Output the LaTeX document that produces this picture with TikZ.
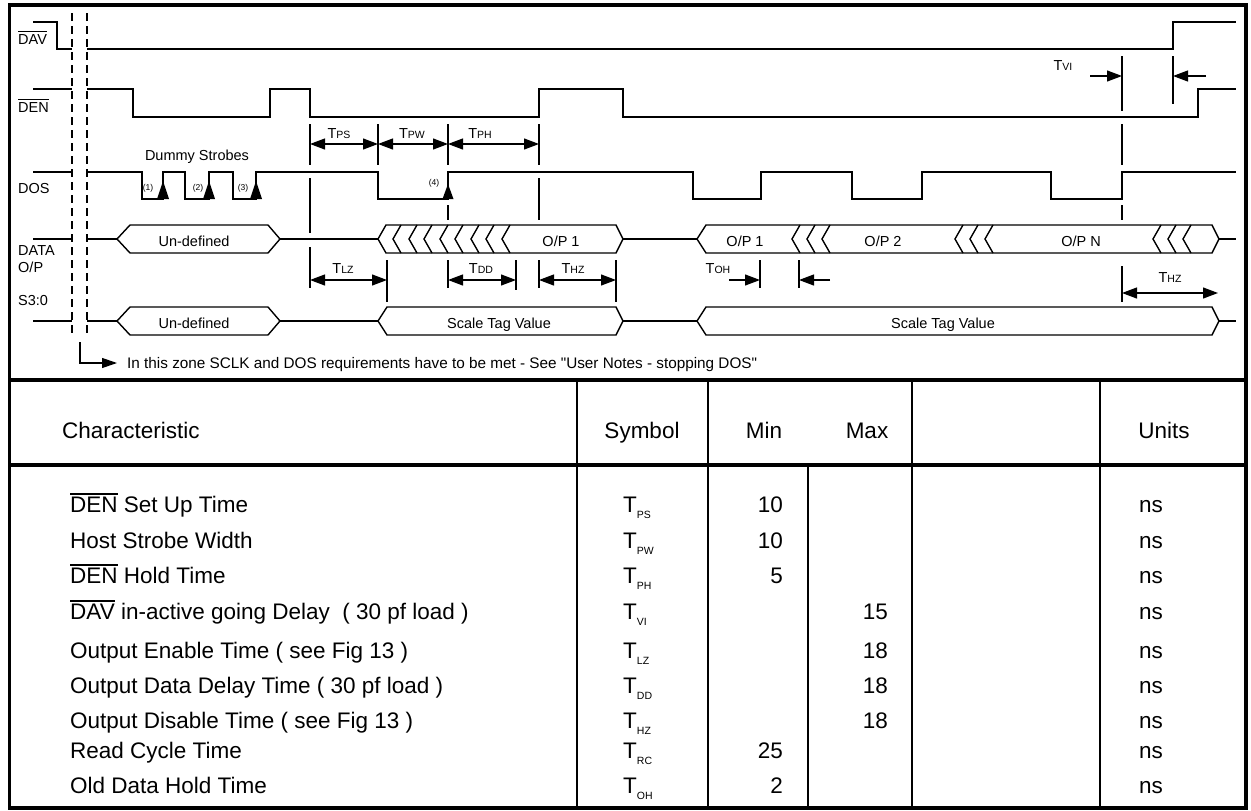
\documentclass[tikz,border=0pt]{standalone}
\usepackage{fontspec}
\setmainfont{Liberation Sans}[Ligatures=TeXOff]
\usetikzlibrary{arrows.meta}
\newcommand{\ovl}[1]{\leavevmode\vbox{\hrule height 1.4pt \kern 1.8pt \hbox{#1}}}
\newcommand{\tsub}[1]{T{\fontsize{10.5}{11}\selectfont #1}}
\newcommand{\tsym}[1]{T\raisebox{-6pt}{\fontsize{10.5}{10}\selectfont #1}}
\newcommand{\busdraw}[5]{\draw[sig] (#1,#3) -- (#1+#4,#3-14) -- (#2-#5,#3-14) -- (#2,#3) -- (#2-#5,#3+14) -- (#1+#4,#3+14) -- cycle;}
\newcommand{\chev}[2]{\draw[sig] (#1+8,#2-14) -- (#1,#2) -- (#1+8,#2+14);}
\newcommand{\upmark}[1]{\fill (#1-6,199) -- (#1+6,199) -- (#1,181) -- cycle;}
\begin{document}
\begin{tikzpicture}[x=1pt,y=-1pt,
  sig/.style={line width=1.4pt},
  mk/.style={line width=1.2pt},
  dim/.style={line width=1.2pt,{Triangle[length=15pt,width=11pt]}-{Triangle[length=15pt,width=11pt]}},
  dimr/.style={line width=1.2pt,-{Triangle[length=15pt,width=11pt]}},
  lbl/.style={font=\fontsize{14.5}{16}\selectfont,inner sep=0pt},
  blbl/.style={lbl,anchor=base},
  small/.style={font=\fontsize{8.5}{9}\selectfont,inner sep=0pt},
  tab/.style={font=\fontsize{22.5}{24}\selectfont,inner sep=0pt},
  dsh/.style={line width=1.4pt,dash pattern=on 8pt off 5pt},
  frame/.style={line width=3.5pt},
  col/.style={line width=2pt}]
\useasboundingbox (0,0) rectangle (1251,811);
\fill[white] (0,0) rectangle (1251,811);

% ---------- frame ----------
\draw[frame] (9.5,5) rectangle (1246,808);
\draw[frame] (9.5,380) -- (1246,380);
\draw[frame] (9.5,465) -- (1246,465);
\draw[col] (577,380) -- (577,808);
\draw[col] (708,380) -- (708,808);
\draw[col] (808,465) -- (808,808);
\draw[col] (912,380) -- (912,808);
\draw[col] (1100,380) -- (1100,808);

% ---------- signal names ----------
\node[lbl,anchor=base west] (nDAV) at (18,44) {\ovl{DAV}};
\node[lbl,anchor=base west] (nDEN) at (18,112) {\ovl{DEN}};
\node[lbl,anchor=base west] (nDOS) at (18,193) {DOS};
\node[lbl,anchor=base west] (nDATA) at (18,255) {DATA};
\node[lbl,anchor=base west] (nOP) at (18,272) {O/P};
\node[lbl,anchor=base west] (nS) at (18,305) {S3:0};

% ---------- dashed zone ----------
\draw[dsh] (72,13) -- (72,336);
\draw[dsh] (87,13) -- (87,336);

% ---------- DAV ----------
\draw[sig] (33,22) -- (57,22) -- (57,49) -- (72,49);
\draw[sig] (87,49) -- (1173,49) -- (1173,22) -- (1236,22);

% ---------- DEN ----------
\draw[sig] (33,89) -- (72,89);
\draw[sig] (87,89) -- (133,89) -- (133,117) -- (270,117) -- (270,89) -- (310,89) -- (310,117)
  -- (539,117) -- (539,89) -- (623,89) -- (623,117) -- (1198,117) -- (1198,89) -- (1236,89);

% ---------- DOS ----------
\draw[sig] (33,172) -- (72,172);
\draw[sig] (87,172) -- (142,172) -- (142,199) -- (163,199) -- (163,172) -- (185,172) -- (185,199)
  -- (209,199) -- (209,172) -- (233,172) -- (233,199) -- (256,199) -- (256,172) -- (378,172)
  -- (378,199) -- (448,199) -- (448,172) -- (693,172) -- (693,199) -- (761,199) -- (761,172)
  -- (852,172) -- (852,199) -- (922,199) -- (922,172) -- (1051,172) -- (1051,199) -- (1122,199)
  -- (1122,172) -- (1236,172);
\upmark{163}\upmark{209}\upmark{256}
\fill (442.5,199) -- (453.5,199) -- (448,184) -- cycle;
\node[small] (s1) at (148,188) {(1)};
\node[small] (s2) at (198,188) {(2)};
\node[small] (s3) at (243,188) {(3)};
\node[small] (s4) at (434,183) {(4)};
\node[blbl] (dummy) at (197,160) {Dummy Strobes};

% ---------- DATA O/P ----------
\draw[sig] (33,239) -- (72,239);
\draw[sig] (87,239) -- (117,239);
\busdraw{117}{280}{239}{13}{12}
\node[blbl] (d1) at (194,246.5) {Un-defined};
\draw[sig] (280,239) -- (378,239);
\busdraw{378}{623}{239}{8}{7}
\foreach \x in {393,409,424,440,455,471,486,502} {\chev{\x}{239}}
\node[blbl] (d2) at (561,246.5) {O/P 1};
\draw[sig] (623,239) -- (697,239);
\busdraw{697}{1219}{239}{9}{7}
\foreach \x in {792,807,822,955,970,985,1153,1168,1183} {\chev{\x}{239}}
\node[blbl] (d3) at (745,246.5) {O/P 1};
\node[blbl] (d4) at (883,246.5) {O/P 2};
\node[blbl] (d5) at (1081,246.5) {O/P N};
\draw[sig] (1219,239) -- (1236,239);

% ---------- S3:0 ----------
\draw[sig] (33,321) -- (72,321);
\draw[sig] (87,321) -- (117,321);
\busdraw{117}{280}{321}{13}{12}
\node[blbl] (e1) at (194,328) {Un-defined};
\draw[sig] (280,321) -- (378,321);
\busdraw{378}{623}{321}{9}{7}
\node[blbl] (e2) at (499,328) {Scale Tag Value};
\draw[sig] (623,321) -- (697,321);
\busdraw{697}{1219}{321}{9}{7}
\node[blbl] (e3) at (943,328) {Scale Tag Value};
\draw[sig] (1219,321) -- (1236,321);

% ---------- marker lines ----------
\draw[mk] (310,124) -- (310,165) (310,178) -- (310,233) (310,247) -- (310,288);
\draw[mk] (378,124) -- (378,165);
\draw[mk] (448,124) -- (448,165) (448,205) -- (448,220) (448,260) -- (448,288);
\draw[mk] (539,124) -- (539,165) (539,178) -- (539,220) (539,260) -- (539,288);
\draw[mk] (387,260) -- (387,302);
\draw[mk] (516,260) -- (516,290);
\draw[mk] (616,260) -- (616,302);
\draw[mk] (760,260) -- (760,288);
\draw[mk] (799,260) -- (799,288);
\draw[mk] (1122,56) -- (1122,111) (1122,124) -- (1122,165) (1122,205) -- (1122,220) (1122,266) -- (1122,302);
\draw[mk] (1173,56) -- (1173,104);

% ---------- dimensions ----------
\draw[dim] (310,144) -- (378,144);
\draw[dim] (378,144) -- (448,144);
\draw[dim] (448,144) -- (539,144);
\node[blbl] (tps) at (339,138) {\tsub{PS}};
\node[blbl] (tpw) at (412,138) {\tsub{PW}};
\node[blbl] (tph) at (480,138) {\tsub{PH}};
\draw[dim] (310,280) -- (387,280);
\draw[dim] (448,280) -- (516,280);
\draw[dim] (539,280) -- (616,280);
\node[blbl] (tlz) at (343,273) {\tsub{LZ}};
\node[blbl] (tdd) at (481,273) {\tsub{DD}};
\node[blbl] (thz) at (573,273) {\tsub{HZ}};
\draw[dimr] (729,280) -- (760,280);
\draw[dimr] (830,280) -- (799,280);
\node[blbl] (toh) at (718,273) {\tsub{OH}};
\draw[dim] (1122,293) -- (1218,293);
\node[blbl] (thz2) at (1170,282) {\tsub{HZ}};
\draw[dimr] (1090,76) -- (1122,76);
\draw[dimr] (1206,76) -- (1173,76);
\node[blbl] (tvi) at (1063,70) {\tsub{VI}};

% ---------- note ----------
\draw[line width=1.2pt,-{Triangle[length=15pt,width=10pt]}] (80,342) -- (80,363) -- (117,363);
\node[lbl,anchor=base west,font=\fontsize{15.3}{16}\selectfont] (note) at (127,368.5) {In this zone SCLK and DOS requirements have to be met - See "User Notes - stopping DOS"};

% ---------- table ----------
\node[tab,anchor=base west] (hC) at (62,438) {Characteristic};
\node[tab,anchor=base] (hS) at (642,438) {Symbol};
\node[tab,anchor=base] (hMin) at (764,438) {Min};
\node[tab,anchor=base] (hMax) at (867,438) {Max};
\node[tab,anchor=base] (hU) at (1164,438) {Units};

\foreach \yy/\txt/\sym [count=\i] in {
  504/{\ovl{DEN} Set Up Time}/PS,
  540/{Host Strobe Width}/PW,
  575/{\ovl{DEN} Hold Time}/PH,
  611/{\ovl{DAV} in-active going Delay\ \ ( 30 pf load )}/VI,
  650/{Output Enable Time ( see Fig 13 )}/LZ,
  685/{Output Data Delay Time ( 30 pf load )}/DD,
  720/{Output Disable Time ( see Fig 13 )}/HZ,
  750/{Read Cycle Time}/RC,
  785/{Old Data Hold Time}/OH} {
  \node[tab,anchor=base west] (c\i) at (70,\yy+8) {\txt};
  \node[tab,anchor=base west] (y\i) at (623,\yy+8) {\tsym{\sym}};
  \node[tab,anchor=base west] (u\i) at (1139,\yy+8) {ns};
}
\node[tab,anchor=base east] (m1) at (783,512) {10};
\node[tab,anchor=base east] (m2) at (783,548) {10};
\node[tab,anchor=base east] (m3) at (783,583) {5};
\node[tab,anchor=base east] (m8) at (783,758) {25};
\node[tab,anchor=base east] (m9) at (783,793) {2};
\node[tab,anchor=base east] (x4) at (888,619) {15};
\node[tab,anchor=base east] (x5) at (888,658) {18};
\node[tab,anchor=base east] (x6) at (888,693) {18};
\node[tab,anchor=base east] (x7) at (888,728) {18};
\end{tikzpicture}
\end{document}
